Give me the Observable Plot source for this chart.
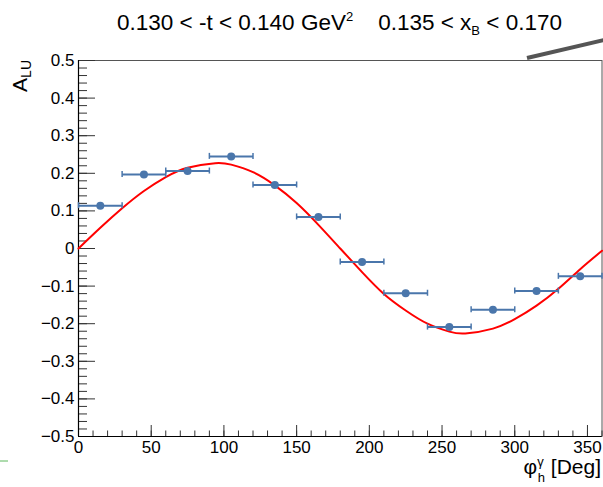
<!DOCTYPE html>
<html><head><meta charset="utf-8">
<script src="https://cdn.jsdelivr.net/npm/d3@7"></script>
<script src="https://cdn.jsdelivr.net/npm/@observablehq/plot@0.6"></script>
<style>html,body{margin:0;padding:0;background:#fff;} svg{display:block;}</style>
</head><body><div id="chart"></div>
<script>
// ---- data ----
const binLow  = [0, 30, 60, 90, 120, 150, 180, 210, 240, 270, 300, 330];
const binHigh = [30, 60, 90, 120, 150, 180, 210, 240, 270, 300, 330, 360];
const phiCenter = [15, 45, 75, 105, 135, 165, 195, 225, 255, 285, 315, 345];
const aluValue = [0.114, 0.197, 0.206, 0.245, 0.169, 0.084, -0.036, -0.119, -0.209, -0.163, -0.113, -0.074];

// fit curve
const fitPhi = [0, 15, 30, 45, 60, 75, 94, 105, 120, 135, 150, 165, 180, 195, 210, 225, 240, 255, 266, 285, 300, 315, 330, 345, 360];
const fitAlu = [0.0, 0.055, 0.107, 0.153, 0.190, 0.215, 0.227, 0.223, 0.203, 0.168, 0.121, 0.063, 0.0, -0.063, -0.121, -0.165, -0.200, -0.221, -0.226, -0.213, -0.188, -0.152, -0.107, -0.055, -0.006];

const xTicks = [0, 50, 100, 150, 200, 250, 300, 350];
const xTickLabels = ["0", "50", "100", "150", "200", "250", "300", "350"];
const yTicks = [-0.5, -0.4, -0.3, -0.2, -0.1, 0, 0.1, 0.2, 0.3, 0.4, 0.5];
const yTickLabels = ["\u22120.5", "\u22120.4", "\u22120.3", "\u22120.2", "\u22120.1", "0", "0.1", "0.2", "0.3", "0.4", "0.5"];
const xMinor = d3.range(0, 361, 10);
const yMinor = d3.range(-25, 26).map(k => k / 50);

const titleParts = ["0.130 < -t < 0.140 GeV", "2", "0.135 < x", "B", " < 0.170"];
const yLabelParts = ["A", "LU"];
const xLabelParts = ["\u03c6", "\u03b3", "h", " [Deg]"];

// ---- chart ----
const points = phiCenter.map((p, i) => ({phi: p, lo: binLow[i], hi: binHigh[i], a: aluValue[i]}));
const fit = fitPhi.map((p, i) => ({phi: p, a: fitAlu[i]}));
const xLab = new Map(xTicks.map((t, i) => [t, xTickLabels[i]]));
const yLab = new Map(yTicks.map((t, i) => [t, yTickLabels[i]]));
const blue = "#4a76ab";
const font = "'Liberation Sans', Arial, Helvetica, sans-serif";

const svg = Plot.plot({
  width: 603,
  height: 487,
  marginLeft: 78,
  marginRight: 1.5,
  marginTop: 60,
  marginBottom: 51,
  style: {fontFamily: font, fontSize: "17px", color: "#000", background: "#fff"},
  x: {domain: [0, 360]},
  y: {domain: [-0.5, 0.5]},
  marks: [
    Plot.frame({stroke: "#555", strokeWidth: 1}),
    // minor ticks
    Plot.axisY(yMinor, {anchor: "left", tickSize: -9, tickFormat: () => "", label: null, stroke: "#333"}),
    Plot.axisX(xMinor, {anchor: "bottom", tickSize: -5.5, tickFormat: () => "", label: null, stroke: "#333"}),
    // major ticks
    Plot.axisY(yTicks, {anchor: "left", tickSize: -17, tickFormat: () => "", label: null, stroke: "#333"}),
    Plot.axisX(xTicks, {anchor: "bottom", tickSize: -11, tickFormat: () => "", label: null, stroke: "#333"}),
    // labels
    Plot.axisY(yTicks, {anchor: "left", tickSize: 0, tickPadding: 4, tickFormat: d => yLab.get(d), label: null, fontSize: 17}),
    Plot.axisX(xTicks, {anchor: "bottom", tickSize: 0, tickPadding: 4, tickFormat: d => xLab.get(d), label: null, fontSize: 17}),
    Plot.ruleX([0], {stroke: "#000", strokeWidth: 1.2}),
    Plot.ruleY([-0.5], {stroke: "#000", strokeWidth: 1.2}),
    // fit curve
    Plot.line(fit, {x: "phi", y: "a", curve: "natural", stroke: "#ff0000", strokeWidth: 2}),
    // error bars
    Plot.link(points, {x1: "lo", x2: "hi", y1: "a", y2: "a", stroke: blue, strokeWidth: 2}),
    Plot.ruleX(points, {x: "lo", y1: "a", y2: "a", insetTop: -3, insetBottom: -3, stroke: blue, strokeWidth: 1.5}),
    Plot.ruleX(points, {x: "hi", y1: "a", y2: "a", insetTop: -3, insetBottom: -3, stroke: blue, strokeWidth: 1.5}),
    Plot.dot(points, {x: "phi", y: "a", r: 4, fill: blue, stroke: "none"})
  ]
});

const s = d3.select(svg).style("overflow", "visible");

// title
const t = s.append("text").attr("x", 117).attr("y", 30).attr("text-anchor", "start")
  .attr("font-family", font).attr("font-size", 22.5).attr("fill", "#000");
t.append("tspan").text(titleParts[0]);
t.append("tspan").attr("font-size", 13).attr("dy", -9).text(titleParts[1]);
t.append("tspan").attr("dy", 9).attr("dx", 25).text(titleParts[2]);
t.append("tspan").attr("font-size", 13).attr("dy", 5).text(titleParts[3]);
t.append("tspan").attr("dy", -5).text(titleParts[4]);

// y label
const yl = s.append("text").attr("transform", "translate(27,60) rotate(-90)")
  .attr("text-anchor", "end").attr("font-family", font).attr("font-size", 21).attr("fill", "#000");
yl.append("tspan").text(yLabelParts[0]);
yl.append("tspan").attr("font-size", 14).attr("dy", 4).text(yLabelParts[1]);

// x label
const xl = s.append("text").attr("x", 601).attr("y", 474)
  .attr("text-anchor", "end").attr("font-family", font).attr("font-size", 21).attr("fill", "#000");
xl.append("tspan").text(xLabelParts[0]);
xl.append("tspan").attr("font-size", 13).attr("dy", -8).text(xLabelParts[1]);
xl.append("tspan").attr("font-size", 13).attr("dy", 16).attr("dx", -6).text(xLabelParts[2]);
xl.append("tspan").attr("dy", -8).text(xLabelParts[3]);

// decorations (partial box edge top-right, tick bottom-left)
s.append("line").attr("x1", 527).attr("y1", 58).attr("x2", 604).attr("y2", 40)
  .attr("stroke", "#555").attr("stroke-width", 4);
s.append("line").attr("x1", 0).attr("y1", 461).attr("x2", 8).attr("y2", 461)
  .attr("stroke", "#5cb85c").attr("stroke-width", 1);

document.getElementById("chart").appendChild(svg);
</script>
</body></html>
